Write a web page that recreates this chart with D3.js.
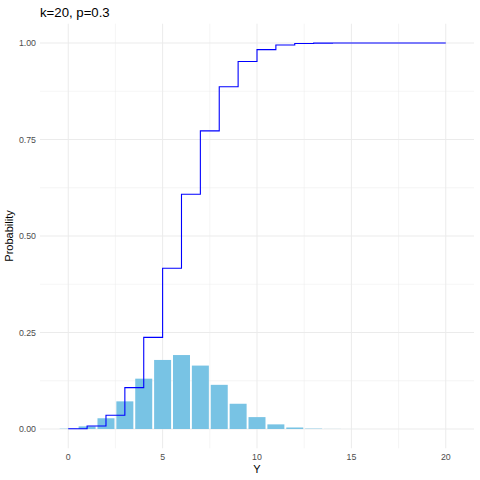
<!DOCTYPE html>
<html>
<head>
<meta charset="utf-8">
<script src="https://cdn.jsdelivr.net/npm/d3@7"></script>
<style>
  body { margin: 0; background: #fff; }
  text { font-family: "Liberation Sans", Arial, sans-serif; }
</style>
</head>
<body>
<svg id="chart" width="480" height="480"></svg>
<script>
// values (k=20, p=0.3)
var ys = [0,1,2,3,4,5,6,7,8,9,10,11,12,13,14,15,16,17,18,19,20];
var probs = [0.0008,0.0068,0.0278,0.0716,0.1304,0.1789,0.1916,0.1643,0.1144,0.0654,0.0308,0.0120,0.0039,0.0010,0.0002,0.00004,0,0,0,0,0];
var cumProbs = [0.0008,0.0076,0.0355,0.1071,0.2375,0.4164,0.6080,0.7723,0.8867,0.9520,0.9829,0.9949,0.9987,0.9997,0.9999,1,1,1,1,1,1];
var xTicks = [0, 5, 10, 15, 20];
var yTicks = [0, 0.25, 0.5, 0.75, 1];

var svg = d3.select("#chart");

var x = d3.scaleLinear().domain([-1.495, 21.495]).range([40, 474]);
var y = d3.scaleLinear().domain([-0.05, 1.05]).range([448.3, 23.7]);

// minor grid
var g = svg.append("g");
[-0.125, 0.125, 0.375, 0.625, 0.875].filter(d => d > -0.05).forEach(function (d) {
  g.append("line").attr("x1", 40).attr("x2", 474).attr("y1", y(d)).attr("y2", y(d))
    .attr("stroke", "#ebebeb").attr("stroke-width", 0.5);
});
[2.5, 7.5, 12.5, 17.5].forEach(function (d) {
  g.append("line").attr("x1", x(d)).attr("x2", x(d)).attr("y1", 23.7).attr("y2", 448.3)
    .attr("stroke", "#ebebeb").attr("stroke-width", 0.5);
});
// major grid
yTicks.forEach(function (d) {
  g.append("line").attr("x1", 40).attr("x2", 474).attr("y1", y(d)).attr("y2", y(d))
    .attr("stroke", "#ebebeb").attr("stroke-width", 1);
});
xTicks.forEach(function (d) {
  g.append("line").attr("x1", x(d)).attr("x2", x(d)).attr("y1", 23.7).attr("y2", 448.3)
    .attr("stroke", "#ebebeb").attr("stroke-width", 1);
});

// bars
svg.append("g").selectAll("rect")
  .data(ys)
  .join("rect")
  .attr("x", (d) => x(d - 0.45))
  .attr("width", x(0.45) - x(-0.45))
  .attr("y", (d, i) => y(probs[i]))
  .attr("height", (d, i) => y(0) - y(probs[i]))
  .attr("fill", "#78c3e4");

// cumulative step line
var pts = ys.map((d, i) => [d, cumProbs[i]]);
var line = d3.line().x(d => x(d[0])).y(d => y(d[1])).curve(d3.curveStepBefore);
// hv step: horizontal first, then vertical
var stepLine = d3.line().x(d => x(d[0])).y(d => y(d[1])).curve(d3.curveStepAfter);
svg.append("path")
  .attr("d", stepLine(pts))
  .attr("fill", "none")
  .attr("stroke", "#0000ff")
  .attr("stroke-width", 1.1);

// axes labels
svg.append("g").selectAll("text")
  .data(xTicks)
  .join("text")
  .attr("x", d => x(d))
  .attr("y", 460)
  .attr("text-anchor", "middle")
  .attr("font-size", 8.8)
  .attr("fill", "#4d4d4d")
  .text(d => d);

svg.append("g").selectAll("text")
  .data(yTicks)
  .join("text")
  .attr("x", 36)
  .attr("y", d => y(d) + 3)
  .attr("text-anchor", "end")
  .attr("font-size", 8.8)
  .attr("fill", "#4d4d4d")
  .text(d => d3.format(".2f")(d));

svg.append("text")
  .attr("x", x(10)).attr("y", 473)
  .attr("text-anchor", "middle")
  .attr("font-size", 11)
  .text("Y");

svg.append("text")
  .attr("transform", "translate(13," + y(0.5) + ") rotate(-90)")
  .attr("text-anchor", "middle")
  .attr("font-size", 11)
  .text("Probability");

svg.append("text")
  .attr("x", 40).attr("y", 17)
  .attr("font-size", 13.2)
  .text("k=20, p=0.3");
</script>
</body>
</html>
